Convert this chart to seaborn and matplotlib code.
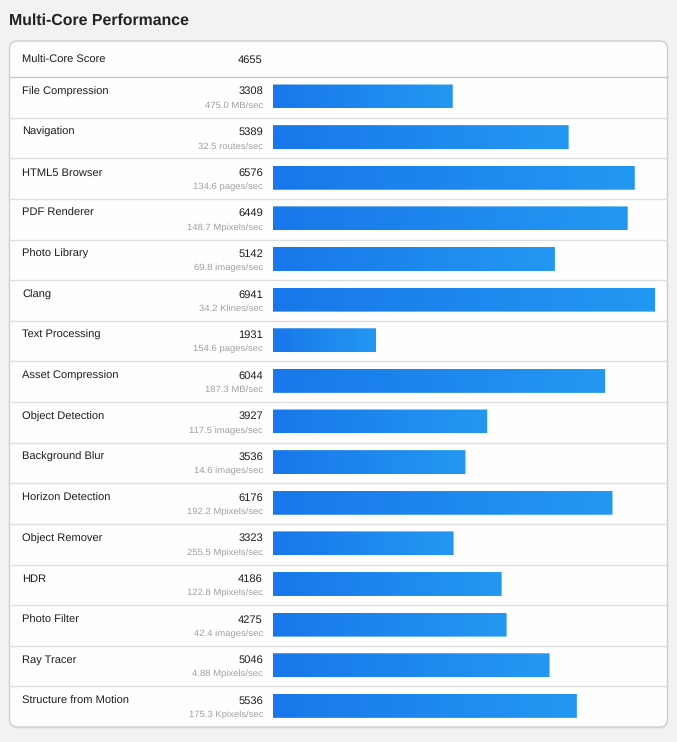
import numpy as np
import pandas as pd
import matplotlib
matplotlib.use("Agg")
import matplotlib.pyplot as plt
from matplotlib.patches import FancyBboxPatch
import seaborn as sns

title = "Multi-Core Performance"
overall_label = "Multi-Core Score"
overall_score = 4655
tests = ["File Compression", "Navigation", "HTML5 Browser", "PDF Renderer",
         "Photo Library", "Clang", "Text Processing", "Asset Compression",
         "Object Detection", "Background Blur", "Horizon Detection",
         "Object Remover", "HDR", "Photo Filter", "Ray Tracer",
         "Structure from Motion"]
scores = [3308, 5389, 6576, 6449, 5142, 6941, 1931, 6044, 3927, 3536, 6176,
          3323, 4186, 4275, 5046, 5536]
rates = ["475.0 MB/sec", "32.5 routes/sec", "134.6 pages/sec", "148.7 Mpixels/sec",
         "69.8 images/sec", "34.2 Klines/sec", "154.6 pages/sec", "187.3 MB/sec",
         "117.5 images/sec", "14.6 images/sec", "192.2 Mpixels/sec",
         "255.5 Mpixels/sec", "122.8 Mpixels/sec", "42.4 images/sec",
         "4.88 Mpixels/sec", "175.3 Kpixels/sec"]

df = pd.DataFrame({"test": tests, "score": scores})

sns.set_theme(style="white")
plt.rcParams["font.family"] = ["Liberation Sans", "DejaVu Sans"]
plt.rcParams["text.hinting"] = "no_hinting"

W, H = 677, 742
fig = plt.figure(figsize=(W / 100, H / 100), dpi=100)
fig.patch.set_facecolor("#f2f2f2")

# background / card axes in pixel coordinates
bg = fig.add_axes([0, 0, 1, 1])
bg.set_xlim(0, W)
bg.set_ylim(H, 0)
bg.axis("off")
bg.patch.set_alpha(0)

card_l, card_r, card_t, card_b = 9.5, 667.5, 41, 727
shadow = FancyBboxPatch((card_l + 0.5, card_t + 1.5), card_r - card_l, card_b - card_t,
                        boxstyle="round,pad=0,rounding_size=8", fc="#e2e2e2", ec="none", zorder=0)
bg.add_patch(shadow)
card = FancyBboxPatch((card_l, card_t), card_r - card_l, card_b - card_t,
                      boxstyle="round,pad=0,rounding_size=8", fc="#fefefe", ec="#cfcfcf",
                      lw=1.0, zorder=1)
bg.add_patch(card)

bg.text(9, 20.5, title, fontsize=11.4, fontweight="bold", color="#222222",
        ha="left", va="center", zorder=3)

header_bottom = 77
bg.text(22, 60.5, overall_label, fontsize=8, color="#1e1e1e", ha="left", va="center", zorder=3)
bg.text(263, 60.5, f"{overall_score}", fontsize=8, color="#1e1e1e", ha="right", va="center", zorder=3)
bg.plot([card_l, card_r], [header_bottom, header_bottom], color="#c8c8c8", lw=1, zorder=2)

n = len(tests)
row_h = (card_b - header_bottom) / n
for i, (t, s, r) in enumerate(zip(tests, scores, rates)):
    top = header_bottom + i * row_h
    bg.text(22, top + 14.5, t, fontsize=8, color="#1e1e1e", ha="left", va="center", zorder=3)
    bg.text(263, top + 14.5, f"{s}", fontsize=8, color="#1e1e1e", ha="right", va="center", zorder=3)
    bg.text(263, top + 28.5, r, fontsize=6.8, color="#a0a0a0", ha="right", va="center", zorder=3)
    if i > 0:
        bg.plot([card_l, card_r], [top, top], color="#dedede", lw=1, zorder=2)

# bar axes
px_per_unit = 0.0557
x0_val = 81.0
ax_left_px, ax_right_px = 273, 662
ax = fig.add_axes([ax_left_px / W, 1 - card_b / H, (ax_right_px - ax_left_px) / W,
                   (card_b - header_bottom) / H])
ax.patch.set_alpha(0)
sns.barplot(data=df, x="score", y="test", orient="h", ax=ax, color="#1e88ee",
            width=0.59, saturation=1, edgecolor="none")
ax.set_xlim(x0_val, x0_val + (ax_right_px - ax_left_px) / px_per_unit)
ax.set_ylim(n - 0.5 + 0.02, -0.5 + 0.02)
ax.axis("off")

# gradient fill clipped to each bar
grad = np.linspace(0, 1, 256).reshape(1, -1)
cmap = matplotlib.colors.LinearSegmentedColormap.from_list("g", ["#1877ea", "#2398f2"])
for p in list(ax.patches):
    x, y = p.get_x(), p.get_y()
    w, h = p.get_width(), p.get_height()
    p.set_visible(False)
    rp = FancyBboxPatch((x0_val, y), w - x0_val, h,
                        boxstyle="round,pad=0,rounding_size=0", fc="none", ec="none",
                        transform=ax.transData)
    ax.add_patch(rp)
    im = ax.imshow(grad, cmap=cmap, aspect="auto", extent=(x0_val, w, y + h, y),
                   interpolation="bilinear", zorder=2)
    im.set_clip_path(rp)
ax.set_xlim(x0_val, x0_val + (ax_right_px - ax_left_px) / px_per_unit)
ax.set_ylim(n - 0.5 + 0.02, -0.5 + 0.02)

fig.savefig("out.png", dpi=100, facecolor=fig.get_facecolor())
